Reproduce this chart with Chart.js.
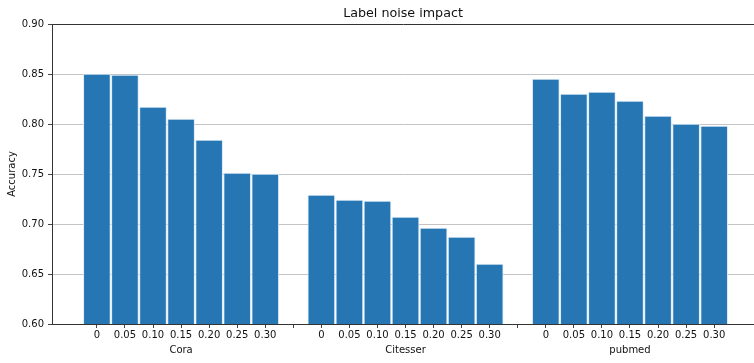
<!DOCTYPE html>
<html>
<head>
<meta charset="utf-8">
<script src="https://cdn.jsdelivr.net/npm/chart.js@4.4.1/dist/chart.umd.min.js"></script>
<style>
  html, body { margin: 0; padding: 0; background: #fff; overflow: hidden; }
  canvas { display: block; }
</style>
</head>
<body>
<canvas id="noiseChart" width="754" height="363"></canvas>
<script>
// Noise levels (tick labels under each bar) and datasets
const noiseLevels = ['0', '0.05', '0.10', '0.15', '0.20', '0.25', '0.30'];
const groupNames = ['Cora', 'Citesser', 'pubmed'];

// Accuracy
const coraAcc = [0.850, 0.849, 0.817, 0.805, 0.784, 0.751, 0.750];
const citesserAcc = [0.729, 0.724, 0.723, 0.707, 0.696, 0.687, 0.660];
const pubmedAcc = [0.845, 0.830, 0.832, 0.823, 0.808, 0.800, 0.798];

const yTicks = [0.60, 0.65, 0.70, 0.75, 0.80, 0.85, 0.90];

const FONT = 'DejaVu Sans';
const slot = noiseLevels.length + 1; // one empty slot between groups

// Build bar points: group g, bar i sits at g * slot + i
const allAcc = [coraAcc, citesserAcc, pubmedAcc];
const points = [];
allAcc.forEach((values, g) => {
    values.forEach((v, i) => points.push({ x: g * slot + i, y: v }));
});

// Tick label: noise level, with the dataset name under the middle bar
function xLabel(value) {
    const g = Math.floor(value / slot);
    const i = value % slot;
    if (i >= noiseLevels.length) return '';
    const mid = Math.floor(noiseLevels.length / 2);
    return [noiseLevels[i], i === mid ? groupNames[g] : ''];
}

const ctx = document.getElementById('noiseChart').getContext('2d');
new Chart(ctx, {
    type: 'bar',
    data: {
        datasets: [{
            data: points,
            backgroundColor: '#2676b4',
            borderColor: 'rgba(215, 232, 246, 0.9)',
            borderWidth: 1,
            borderSkipped: false,
            barThickness: 27
        }]
    },
    options: {
        responsive: false,
        animation: false,
        devicePixelRatio: 1,
        layout: { padding: 0 },
        plugins: {
            legend: { display: false },
            tooltip: { enabled: false },
            title: {
                display: true,
                text: 'Label noise impact',
                fullSize: false,
                color: '#111',
                font: { family: FONT, size: 12.7, weight: 'normal', lineHeight: 1.2 },
                padding: { top: 6, bottom: 2.8 }
            }
        },
        scales: {
            x: {
                type: 'linear',
                min: -1.6,
                max: 23.42,
                offset: false,
                afterBuildTicks: scale => {
                    const total = groupNames.length * slot - 1;
                    scale.ticks = Array.from({ length: total }, (_, k) => ({ value: k }));
                },
                afterFit: scale => { scale.height = 39; },
                ticks: {
                    autoSkip: false,
                    maxRotation: 0,
                    padding: 0,
                    color: '#111',
                    font: { family: FONT, size: 10, lineHeight: 1.5 },
                    callback: value => xLabel(value)
                },
                grid: {
                    offset: false,
                    drawOnChartArea: false,
                    drawTicks: true,
                    tickLength: 4,
                    tickColor: '#444'
                },
                border: { display: true, color: '#333', width: 1 }
            },
            y: {
                min: 0.6,
                max: 0.9,
                z: 1,
                afterBuildTicks: scale => {
                    scale.ticks = yTicks.map(v => ({ value: v }));
                },
                afterFit: scale => { scale.width = 52; },
                ticks: {
                    padding: 4,
                    color: '#111',
                    font: { family: FONT, size: 10 },
                    callback: value => value.toFixed(2)
                },
                grid: {
                    color: c => {
                        const v = c.tick ? c.tick.value : 0;
                        return (Math.abs(v - 0.9) < 1e-9 || Math.abs(v - 0.6) < 1e-9) ? '#333' : '#c4c4c4';
                    },
                    lineWidth: 1,
                    tickLength: 4,
                    tickColor: '#444'
                },
                border: { display: true, color: '#333', width: 1 },
                title: {
                    display: true,
                    text: 'Accuracy',
                    color: '#111',
                    font: { family: FONT, size: 10, lineHeight: 1.2 },
                    padding: { top: 6, bottom: 0 }
                }
            }
        }
    }
});
</script>
</body>
</html>
